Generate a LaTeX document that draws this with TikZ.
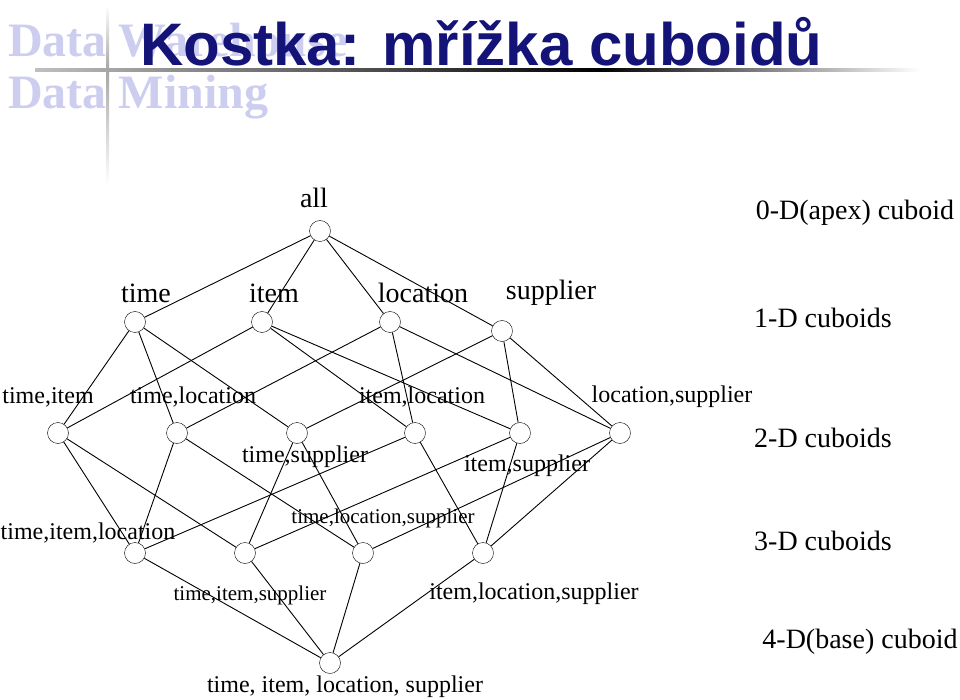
\documentclass[tikz,border=0pt]{standalone}
\usepackage{fontspec}
\setmainfont{Liberation Serif}
\newfontfamily\arialf{Liberation Sans}
\begin{document}
\begin{tikzpicture}[x=1pt,y=-1pt,
  cub/.style={circle,draw,minimum size=21pt,inner sep=0pt},
  lbl/.style={font=\fontsize{28}{30}\selectfont,inner sep=0pt},
  sl/.style={font=\fontsize{24}{26}\selectfont,inner sep=0pt},
  ed/.style={line width=0.9pt}]
\useasboundingbox (0,0) rectangle (960,700);
% logo
\definecolor{logo}{RGB}{205,205,240}
\node[anchor=west,text=logo,font=\fontsize{48}{48}\selectfont\bfseries,inner sep=0pt] (l1) at (8,40) {Data\ Warehouse};
\node[anchor=west,text=logo,font=\fontsize{48}{48}\selectfont\bfseries,inner sep=0pt] (l2) at (8,97) {Data\ Mining};
\shade[left color=gray!50,right color=black] (35,69) rectangle (600,72);
\shade[left color=black,right color=white] (600,69) rectangle (920,72);
\shade[top color=white,bottom color=gray!70] (106,5) rectangle (109,70);
\shade[top color=gray!70,bottom color=white] (106,70) rectangle (109,185);
\node[anchor=west,text={rgb,255:red,20;green,20;blue,120},font=\arialf\bfseries\fontsize{60}{60}\selectfont,inner sep=0pt] (title) at (140,42) {Kostka: mřížka cuboidů};
% nodes
\node[cub] (all) at (320,231) {};
\node[cub] (t) at (135,322) {};
\node[cub] (i) at (262,322) {};
\node[cub] (l) at (390,322) {};
\node[cub] (s) at (502,331) {};
\node[cub] (ti) at (58,433) {};
\node[cub] (tl) at (177,433) {};
\node[cub] (ts) at (297,433) {};
\node[cub] (il) at (415,433) {};
\node[cub] (is) at (520,433) {};
\node[cub] (ls) at (620,433) {};
\node[cub] (til) at (135,553) {};
\node[cub] (tis) at (245,553) {};
\node[cub] (tls) at (363,553) {};
\node[cub] (ils) at (483,553) {};
\node[cub] (tils) at (330,663) {};
\foreach \a/\b in {all/t,all/i,all/l,all/s,
 t/ti,t/tl,t/ts,i/ti,i/il,i/is,l/tl,l/il,l/ls,s/ts,s/is,s/ls,
 ti/til,tl/til,il/til,ti/tis,ts/tis,is/tis,tl/tls,ts/tls,ls/tls,il/ils,is/ils,ls/ils,
 til/tils,tis/tils,tls/tils,ils/tils}
 \draw[ed] (\a) -- (\b);
% labels
\node[lbl] (Lall) at (314,198) {all};
\node[lbl] (Lt) at (146,293) {time};
\node[lbl] (Li) at (274,293) {item};
\node[lbl] (Ll) at (423,293) {location};
\node[lbl] (Ls) at (551,293) {supplier};
\node[sl] (Lti) at (48,397) {time,item};
\node[sl] (Ltl) at (193,397) {time,location};
\node[sl] (Lil) at (422,397) {item,location};
\node[sl] (Lls) at (672,397) {location,supplier};
\node[sl] (Lts) at (305,457) {time,supplier};
\node[sl] (Lis) at (527,466) {item,supplier};
\node[sl] (Ltil) at (88,533) {time,item,location};
\node[sl,font=\fontsize{21}{23}\selectfont] (Ltls) at (383,518) {time,location,supplier};
\node[sl,font=\fontsize{21}{23}\selectfont] (Ltis) at (250,595) {time,item,supplier};
\node[sl,font=\fontsize{24}{26}\selectfont] (Lils) at (534,594) {item,location,supplier};
\node[sl,font=\fontsize{24}{26}\selectfont] (Ltils) at (345,687) {time, item, location, supplier};
\node[lbl] (D0) at (855,213) {0-D(apex) cuboid};
\node[lbl] (D1) at (823,318) {1-D cuboids};
\node[lbl] (D2) at (823,438) {2-D cuboids};
\node[lbl] (D3) at (823,541) {3-D cuboids};
\node[lbl] (D4) at (860,642) {4-D(base) cuboid};
\end{tikzpicture}
\end{document}
